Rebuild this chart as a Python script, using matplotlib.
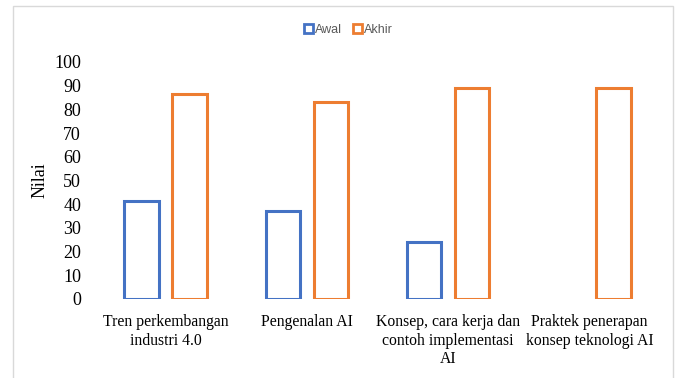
import numpy as np
import matplotlib.pyplot as plt
from matplotlib.patches import Patch, Rectangle

categories = ['Tren perkembangan\nindustri 4.0',
              'Pengenalan AI',
              'Konsep, cara kerja dan\ncontoh implementasi\nAI',
              'Praktek penerapan\nkonsep teknologi AI']
awal = [41.5, 37, 24, np.nan]
akhir = [86.5, 83, 89, 89]

blue = '#4472C4'
orange = '#ED7D31'

fig = plt.figure(figsize=(6.8, 3.78), dpi=100)
ax = fig.add_axes([0.1397, 0.209, 0.831, 0.627])

x = np.arange(len(categories))
w = 0.245
ax.bar(x - 0.17, awal, w, facecolor='white', edgecolor=blue, linewidth=2.2)
ax.bar(x + 0.17, akhir, w, facecolor='white', edgecolor=orange, linewidth=2.2)

ax.set_xlim(-0.5, 3.5)
ax.set_ylim(0, 100)
ax.set_yticks(range(0, 101, 10))
ax.set_xticks(x)
ax.set_xticklabels(categories, family='Liberation Serif', fontsize=11.3,
                   linespacing=1.2)
for lab in ax.get_yticklabels():
    lab.set_family('Liberation Serif')
    lab.set_fontsize(13)
ax.tick_params(axis='y', length=0, pad=10)
ax.tick_params(axis='x', length=0, pad=11)
for s in ax.spines.values():
    s.set_visible(False)

ax.set_ylabel('Nilai', family='Liberation Serif', fontsize=13)
ax.yaxis.set_label_coords(-0.083, 0.5)

# outline of the chart area
fig.patches.append(Rectangle((13 / 680, -0.1), 660 / 680, 1.1 - 6 / 378,
                             transform=fig.transFigure, fill=False,
                             edgecolor='#d9d9d9', linewidth=1))

handles = [Patch(facecolor='white', edgecolor=blue, linewidth=2, label='Awal'),
           Patch(facecolor='white', edgecolor=orange, linewidth=2, label='Akhir')]
fig.legend(handles=handles, loc='center', bbox_to_anchor=(0.512, 0.921),
           ncol=2, frameon=False, handlelength=0.7, handleheight=0.7,
           handletextpad=0.15, columnspacing=0.9,
           prop={'family': 'Liberation Sans', 'size': 9},
           labelcolor='#595959')

fig.savefig('out.png', dpi=100)
